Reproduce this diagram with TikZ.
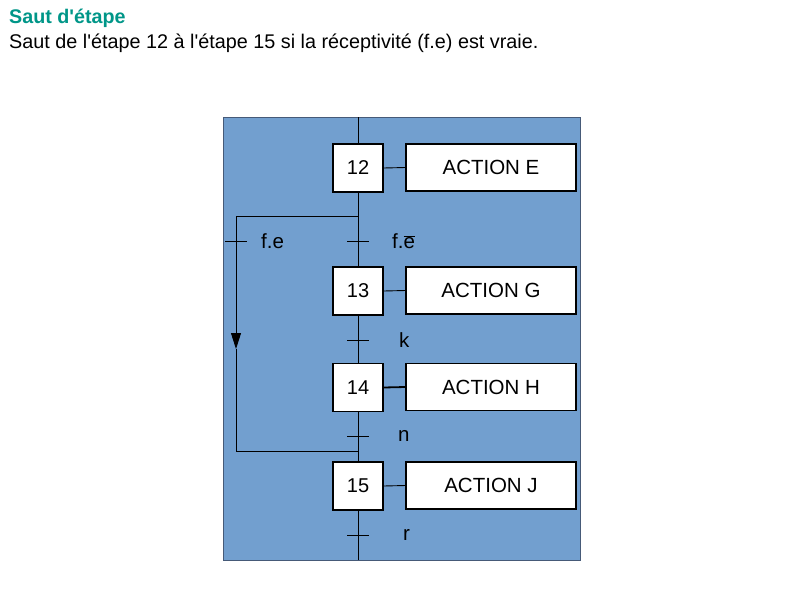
\documentclass[tikz,border=0pt]{standalone}
\usepackage{fontspec}
\setmainfont{Liberation Sans}
\usetikzlibrary{arrows.meta, positioning, calc}
\definecolor{titleteal}{RGB}{0,150,136}
\definecolor{grafblue}{RGB}{114,159,207}
\definecolor{frameline}{RGB}{70,90,120}

\begin{document}
\begin{tikzpicture}[x=1pt, y=-1pt,
    stepbox/.style={draw, line width=1.2pt, fill=white, minimum width=50pt, minimum height=48pt, inner sep=0pt, font=\fontsize{20}{23}\selectfont},
    actionbox/.style={draw, line width=1.2pt, fill=white, minimum width=170pt, minimum height=47pt, inner sep=0pt, font=\fontsize{20.5}{23}\selectfont},
    lnk/.style={line width=0.9pt},
    recep/.style={anchor=west, inner sep=0pt, font=\fontsize{20.5}{23}\selectfont}]
        \useasboundingbox (0,0) rectangle (800,600);

        % Title
        \node[anchor=base west, inner sep=0pt, text=titleteal, font=\fontsize{19.7}{23}\selectfont\bfseries] (title) at (9,23.5) {Saut d\textquotesingle étape};
        \node[anchor=base west, inner sep=0pt, font=\fontsize{19.8}{23}\selectfont] (subtitle) at (9,48.5) {Saut de l\textquotesingle étape 12 à l\textquotesingle étape 15 si la réceptivité (f.e) est vraie.};

        % Background
        \fill[grafblue, draw=frameline, line width=0.6pt] (223,117) rectangle (580,560);

        % Steps and actions
        \node[stepbox] (s12) at (358,168) {12};
        \node[stepbox] (s13) at (358,291) {13};
        \node[stepbox] (s14) at (358,387.5) {14};
        \node[stepbox] (s15) at (358,486) {15};
        \node[actionbox] (a12) at (491,167.5) {ACTION E};
        \node[actionbox] (a13) at (491,290.5) {ACTION G};
        \node[actionbox] (a14) at (491,387) {ACTION H};
        \node[actionbox] (a15) at (491,485.5) {ACTION J};

        % Fixed points
        \coordinate (top) at (358,117);
        \coordinate (bot) at (358,560);
        \coordinate (split) at (358,216);
        \coordinate (join) at (358,451);
        \coordinate (jumptop) at (236,216);
        \coordinate (jumpbot) at (236,451);
        \coordinate (jumparrow) at (236,349);

        % Links
        \draw[lnk] (top) -- (s12.north);
        \draw[lnk] (s12.south) -- (s13.north);
        \draw[lnk] (s13.south) -- (s14.north);
        \draw[lnk] (s14.south) -- (s15.north);
        \draw[lnk] (s15.south) -- (bot);
        \draw[lnk] (s12.east) -- (a12.west);
        \draw[lnk] (s13.east) -- (a13.west);
        \draw[line width=1.8pt] (s14.east) -- (a14.west);
        \draw[lnk] (s15.east) -- (a15.west);

        % Jump 12 -> 15
        \draw[lnk, -{Triangle[length=16pt, width=10pt]}] (split) -- (jumptop) -- (jumparrow);
        \draw[lnk] (jumparrow) -- (jumpbot) -- (join);

        % Transitions
        \foreach \tname/\tx/\ty in {tfe/236/241, tfebar/358/241, tk/358/340, tn/358/436, tr/358/535} {
            \coordinate (\tname) at (\tx,\ty);
            \draw[lnk] ($(\tname)+(-11,0)$) -- ($(\tname)+(11,0)$);
        }

        % Receptivities
        \node[recep] (lfe) at ($(tfe)+(25,0)$) {f.e};
        \node[recep] (lfebar) at ($(tfebar)+(34,0)$) {f.$\overline{\mbox{e}}$};
        \node[recep] (lk) at ($(tk)+(41,0)$) {k};
        \node[recep] (ln) at ($(tn)+(40,0)$) {n};
        \node[recep] (lr) at ($(tr)+(45,0)$) {r};
\end{tikzpicture}
\end{document}
